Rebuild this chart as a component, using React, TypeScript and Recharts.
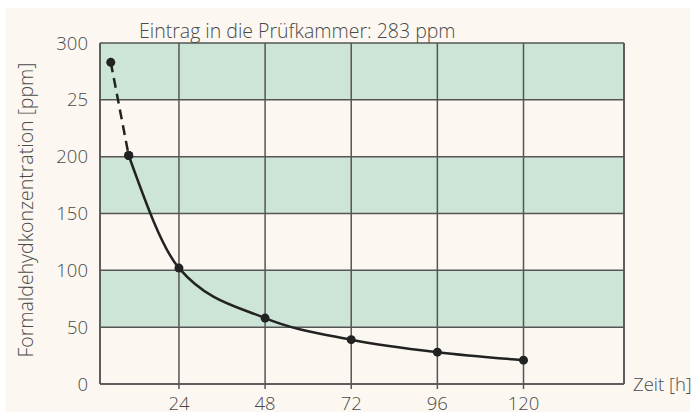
import React from 'react';
import { LineChart, Line, XAxis, YAxis, CartesianGrid, ReferenceLine } from 'recharts';

const hours = [5, 10, 24, 48, 72, 96, 120];
const dashedPpm: (number | null)[] = [283, 201, null, null, null, null, null];
const solidPpm: (number | null)[] = [null, 201, 102, 58, 39, 28, 21];
const xTicks = [24, 48, 72, 96, 120];
const yTicks = [0, 50, 100, 150, 200, 250, 300];
const yTickLabels: Record<number, string> = { 0: '0', 50: '50', 100: '100', 150: '150', 200: '200', 250: '25', 300: '300' };
const title = 'Eintrag in die Prüfkammer: 283 ppm';
const yTitle = 'Formaldehydkonzentration [ppm]';
const xTitle = 'Zeit [h]';

const data = hours.map((h, i) => ({ h, dashed: dashedPpm[i], solid: solidPpm[i] }));

const FONT = '"Open Sans", Roboto, "Liberation Sans", sans-serif';
const TEXT = '#4a4a4a';
const GRID = '#555555';
const GREEN = '#cce5d6';
const CREAM = '#fcf8f1';

const YTitle = () => {
  const cx = 33;
  const cy = 210;
  return (
    <g>
      <text x={cx} y={cy} transform={`rotate(-90 ${cx} ${cy})`} textAnchor="middle" fill={TEXT}
        fontFamily={FONT} fontWeight={300} fontSize={19.5}>{yTitle}</text>
      <text x={139} y={38} textAnchor="start" fill={TEXT} fontFamily={FONT} fontWeight={300} fontSize={19.5}>{title}</text>
    </g>
  );
};

const XTitle = (props: any) => {
  const vb = props.viewBox || {};
  return (
    <text x={vb.x + vb.width + 9} y={vb.y + 7} textAnchor="start" fill={TEXT}
      fontFamily={FONT} fontWeight={300} fontSize={18.5}>{xTitle}</text>
  );
};

export default function App() {
  return (
    <div style={{ position: 'absolute', left: 0, top: 0, width: 695, height: 412, background: '#ffffff', overflow: 'hidden' }}>
      <div style={{ position: 'absolute', left: 5, top: 8, width: 685, height: 404, background: CREAM }} />
      <div style={{ position: 'absolute', left: 0, top: 0 }}>
        <LineChart width={695} height={412} data={data} margin={{ top: 43, right: 71, bottom: 0, left: 0 }}>
          <CartesianGrid stroke={GRID} strokeWidth={1.5} horizontalFill={[GREEN, CREAM]} fillOpacity={1} />
          <XAxis dataKey="h" type="number" domain={[2, 148]} ticks={xTicks} allowDataOverflow height={28}
            axisLine={{ stroke: GRID, strokeWidth: 1.5 }} tickLine={{ stroke: GRID, strokeWidth: 1.5 }} tickSize={5} tickMargin={8}
            tick={{ fill: TEXT, fontFamily: FONT, fontWeight: 300, fontSize: 18.5 }} label={<XTitle />} />
          <YAxis type="number" domain={[0, 300]} ticks={yTicks} width={100} interval={0}
            tickFormatter={(v: number) => yTickLabels[v]}
            axisLine={{ stroke: GRID, strokeWidth: 1.5 }} tickLine={false} tickSize={0} tickMargin={12}
            tick={{ fill: TEXT, fontFamily: FONT, fontWeight: 300, fontSize: 18.5 }} label={<YTitle />} />
          <ReferenceLine x={148} stroke={GRID} strokeWidth={1.5} ifOverflow="extendDomain" />
          <Line dataKey="dashed" stroke="#222222" strokeWidth={2.5} strokeDasharray="10 6" connectNulls={false}
            dot={{ r: 4.5, fill: '#222222', stroke: '#222222', strokeWidth: 0 }} isAnimationActive={false} />
          <Line dataKey="solid" type="monotone" stroke="#222222" strokeWidth={2.5} connectNulls={false}
            dot={{ r: 4.5, fill: '#222222', stroke: '#222222', strokeWidth: 0 }} isAnimationActive={false} />
        </LineChart>
      </div>
    </div>
  );
}
